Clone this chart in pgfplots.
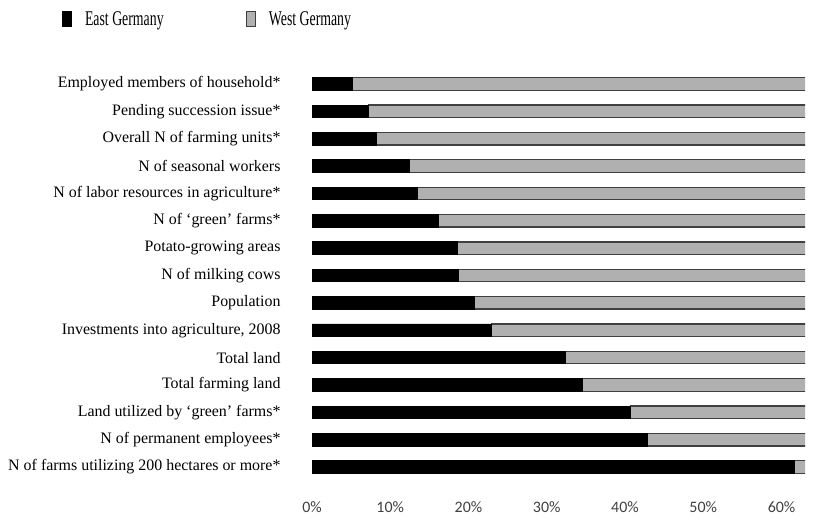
\documentclass[border=0pt]{standalone}
\usepackage{graphicx}
\usepackage{pgfplots}
\pgfplotsset{compat=1.18}
\usepackage{fontspec}
\setmainfont{Liberation Serif}
\newfontfamily\calibri{Carlito}
\definecolor{westgray}{HTML}{B0B0B0}
\definecolor{edgegray}{HTML}{404040}
\definecolor{ticklab}{HTML}{404040}
\pgfplotsset{rectlegend/.style={legend image code/.code={\draw[##1] (0bp,-7.5bp) rectangle (9bp,7.5bp);}}}
\begin{document}
\begin{tikzpicture}[x=1bp,y=1bp]
\path[use as bounding box] (0,0) rectangle (823,522);
\begin{axis}[
 at={(312bp,41.3bp)}, anchor=south west,
 scale only axis, width=493bp, height=410.4bp,
 xbar stacked, bar width=12.5bp,
 xmin=0, xmax=63, ymin=0.5, ymax=15.5,
 ytick={1,...,15},
 yticklabels={
  N of farms utilizing 200 hectares or more*,
  N of permanent employees*,
  Land utilized by ‘green’ farms*,
  Total farming land,
  Total land,
  {Investments into agriculture, 2008},
  Population,
  N of milking cows,
  Potato-growing areas,
  N of ‘green’ farms*,
  N of labor resources in agriculture*,
  N of seasonal workers,
  Overall N of farming units*,
  Pending succession issue*,
  Employed members of household*},
 xtick={0,10,...,60},
 xticklabels={0\%,10\%,20\%,30\%,40\%,50\%,60\%},
 axis line style={draw=none}, major tick length=0pt,
 yticklabel style={font=\fontsize{16}{16}\selectfont, xshift=-28bp},
 xticklabel style={font=\calibri\fontsize{16}{16}\selectfont, text=ticklab, yshift=-17bp},
 legend columns=2,
 legend style={draw=none, fill=none, at={(-0.507,1.125)}, anchor=west,
   inner sep=0pt, nodes={inner sep=0pt},
   /tikz/every odd column/.append style={column sep=13bp},
   /tikz/every even column/.append style={column sep=82bp}},
]
\addplot[fill=black, draw=black, line width=0.8bp, rectlegend]
 coordinates {
 (61.6,1) (42.9,2) (40.7,3) (34.5,4) (32.4,5) (22.9,6) (20.8,7) (18.7,8)
 (18.6,9) (16.1,10) (13.5,11) (12.5,12) (8.2,13) (7.2,14) (5.2,15)};
\addlegendentry{\scalebox{0.66}[1]{\fontsize{21}{21}\selectfont East Germany}}
\addplot[fill=westgray, draw=edgegray, line width=1.3bp, rectlegend]
 coordinates {
 (38.4,1) (57.1,2) (59.3,3) (65.5,4) (67.6,5) (77.1,6) (79.2,7) (81.3,8)
 (81.4,9) (83.9,10) (86.5,11) (87.5,12) (91.8,13) (92.8,14) (94.8,15)};
\addlegendentry{\scalebox{0.66}[1]{\fontsize{21}{21}\selectfont West Germany}}
\end{axis}
\end{tikzpicture}
\end{document}
